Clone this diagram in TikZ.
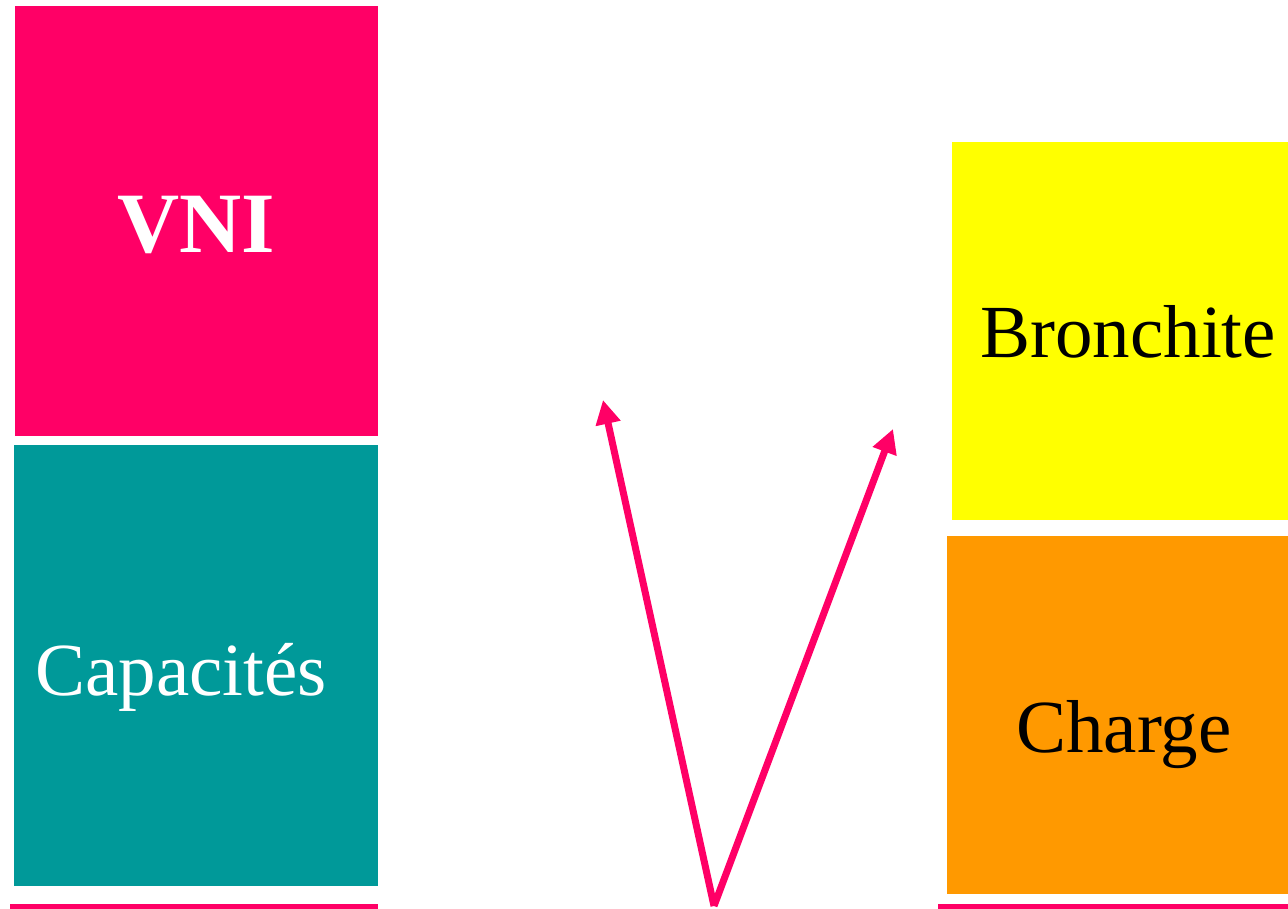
\documentclass[tikz,border=0pt]{standalone}
\usepackage{fontspec}
\setmainfont{Liberation Serif}
\usetikzlibrary{arrows.meta}
\definecolor{pinkc}{HTML}{FF0066}
\definecolor{tealc}{HTML}{009999}
\definecolor{yellowc}{HTML}{FFFF00}
\definecolor{orangec}{HTML}{FF9900}
\tikzset{
  lbl/.style={inner sep=0pt, anchor=base west, font=\fontsize{75}{80}\selectfont},
  vline/.style={pinkc, line width=7pt, -{Triangle[length=24pt,width=24pt]}},
  baseline rule/.style={pinkc, line width=5pt}
}
\begin{document}
\begin{tikzpicture}[x=1pt,y=-1pt]
\useasboundingbox (0,0) rectangle (1288,909);
\fill[pinkc] (15,6) rectangle (378,436);
\fill[tealc] (14,445) rectangle (378,886);
\fill[yellowc] (952,142) rectangle (1288,520);
\fill[orangec] (947,536) rectangle (1288,894);
\node[inner sep=0pt, anchor=base, font=\fontsize{86}{90}\selectfont\bfseries, text=white] (vni) at (196,253) {VNI};
\node[lbl, text=white] (cap) at (35,695) {Capacités};
\node[lbl, text=black] (bron) at (980,357) {Bronchite};
\node[lbl, text=black] (charge) at (1016,752) {Charge};
\coordinate (apex) at (714,906);
\coordinate (tipL) at (603,400);
\coordinate (tipR) at (893,429);
\draw[vline] (apex) -- (tipL);
\draw[vline] (apex) -- (tipR);
\coordinate (l1) at (10,906);
\coordinate (l2) at (378,906);
\coordinate (r1) at (938,906);
\coordinate (r2) at (1288,906);
\draw[baseline rule] (l1) -- (l2);
\draw[baseline rule] (r1) -- (r2);
\end{tikzpicture}
\end{document}
